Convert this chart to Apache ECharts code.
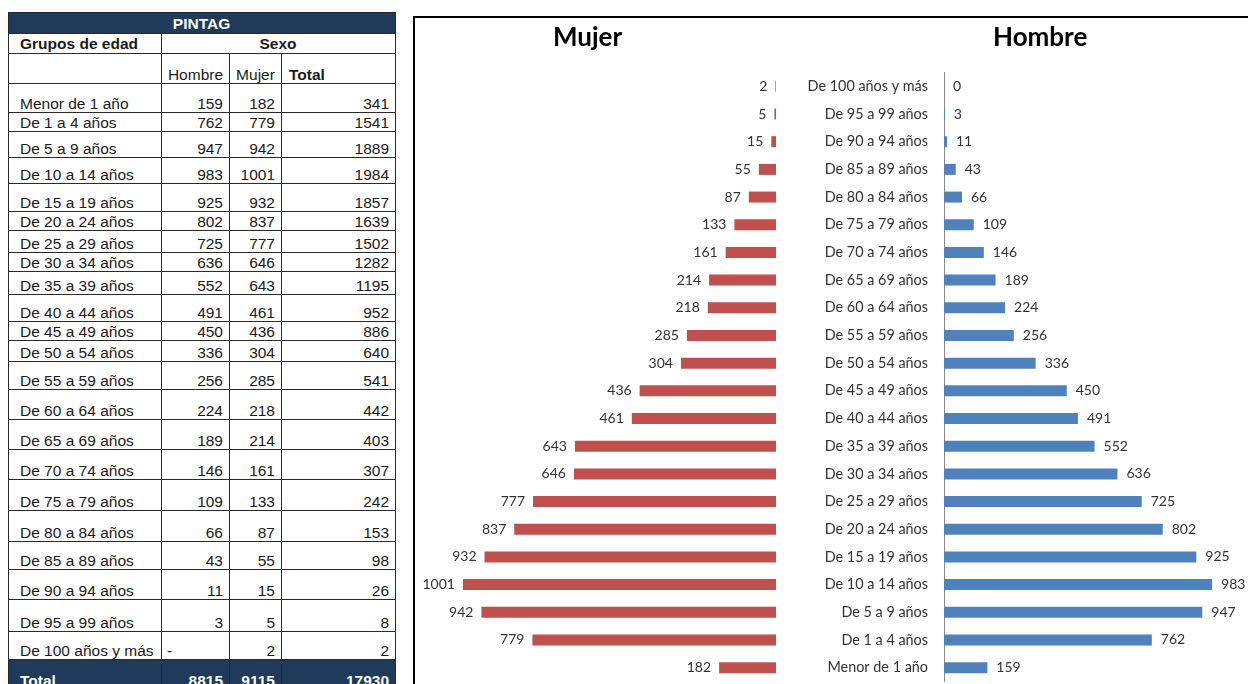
<!DOCTYPE html>
<html>
<head>
<meta charset="utf-8">
<script src="https://cdn.jsdelivr.net/npm/echarts@6/dist/echarts.min.js"></script>
<style>
html,body{margin:0;padding:0;width:1248px;height:684px;overflow:hidden;background:#fff;}
#tbl{position:absolute;left:8px;top:12px;border-collapse:collapse;table-layout:fixed;width:387px;
  font-family:"Liberation Sans",Arial,sans-serif;font-size:15.5px;color:#1a1a1a;}
#tbl td{border:1px solid #2a2a2a;padding:0 6px 0 5px;vertical-align:bottom;white-space:nowrap;overflow:hidden;line-height:17px;}
#tbl td.first{padding-left:11px;}
#tbl td.num{text-align:right;}
#tbl tr.navy td{background:#203A5C;color:#fff;font-weight:bold;}
#chart{position:absolute;left:413px;top:16px;width:900px;height:700px;border:2px solid #000;box-sizing:content-box;}
</style>
</head>
<body>
<table id="tbl">
  <colgroup><col style="width:153px"><col style="width:68px"><col style="width:52px"><col style="width:114px"></colgroup>
  <tbody id="tbody"></tbody>
</table>
<div id="chart"></div>
<script>
// ---- data ----
const tableTitle = "PINTAG";
const ageGroups = ["Menor de 1 año","De 1 a 4 años","De 5 a 9 años","De 10 a 14 años","De 15 a 19 años",
  "De 20 a 24 años","De 25 a 29 años","De 30 a 34 años","De 35 a 39 años","De 40 a 44 años",
  "De 45 a 49 años","De 50 a 54 años","De 55 a 59 años","De 60 a 64 años","De 65 a 69 años",
  "De 70 a 74 años","De 75 a 79 años","De 80 a 84 años","De 85 a 89 años","De 90 a 94 años",
  "De 95 a 99 años","De 100 años y más"];
const hombre = [159,762,947,983,925,802,725,636,552,491,450,336,256,224,189,146,109,66,43,11,3,0];
const mujer  = [182,779,942,1001,932,837,777,646,643,461,436,304,285,218,214,161,133,87,55,15,5,2];
const chartTitles = ["Mujer","Hombre"];

// ---- table (layout heights only) ----
const rowHeights = [29,19,26,26,28,19,22,19,23,27,19,21,28,30,30,30,31,31,28,30,32,28];
const tbody = document.getElementById('tbody');
function addRow(cells, h, cls){
  const tr = document.createElement('tr');
  if (cls) tr.className = cls;
  tr.style.height = h + 'px';
  cells.forEach((c, k) => {
    const td = document.createElement('td');
    td.textContent = c.t;
    if (c.span) td.colSpan = c.span;
    if (c.style) td.setAttribute('style', c.style);
    td.className = (c.cls || '') + (k === 0 && !c.span ? ' first' : '');
    td.style.height = (h - 1) + 'px';
    tr.appendChild(td);
  });
  tbody.appendChild(tr);
}
addRow([{t:tableTitle, span:4, style:'text-align:center;vertical-align:middle'}], 21, 'navy');
addRow([{t:'Grupos de edad', style:'font-weight:bold;vertical-align:middle'},
        {t:'Sexo', span:3, style:'font-weight:bold;text-align:center;vertical-align:middle'}], 20);
addRow([{t:''},{t:'Hombre', style:'text-align:center;padding:0'},{t:'Mujer', style:'text-align:center;padding:0'},
        {t:'Total', style:'font-weight:bold;padding-left:7px'}], 30);
ageGroups.forEach((g,i) => {
  addRow([{t:g},
          {t: hombre[i] === 0 ? '-' : String(hombre[i]), cls: hombre[i] === 0 ? '' : 'num'},
          {t:String(mujer[i]), cls:'num'},
          {t:String(hombre[i] + mujer[i]), cls:'num'}], rowHeights[i]);
});
const sumH = hombre.reduce((a,b)=>a+b,0), sumM = mujer.reduce((a,b)=>a+b,0);
addRow([{t:'Total'},{t:String(sumH),cls:'num'},{t:String(sumM),cls:'num'},{t:String(sumH+sumM),cls:'num'}], 30, 'navy');

// ---- chart ----
const chart = echarts.init(document.getElementById('chart'), null, {renderer:'canvas'});
const fam = 'Lato, "Open Sans", sans-serif';
const lblFont = {fontFamily:fam, fontSize:14, color:'#333'};
const option = {
  animation:false,
  grid:[
    {left:17, width:344, top:54.5, height:609},
    {left:529, width:300, top:54.5, height:609}
  ],
  xAxis:[
    {type:'value', gridIndex:0, inverse:true, min:0, max:1100, show:false},
    {type:'value', gridIndex:1, min:0, max:1100, show:false}
  ],
  yAxis:[
    {type:'category', gridIndex:0, data:ageGroups, show:false},
    {type:'category', gridIndex:1, data:ageGroups,
     axisLine:{show:true, lineStyle:{color:'#8c8c8c', width:1}},
     axisTick:{show:false},
     axisLabel:{margin:16, fontFamily:fam, fontSize:14.4, color:'#333'}}
  ],
  series:[
    {type:'bar', xAxisIndex:0, yAxisIndex:0, data:mujer, barWidth:11,
     itemStyle:{color:'#C0504D'},
     label:Object.assign({show:true, position:'left', distance:8}, lblFont)},
    {type:'bar', xAxisIndex:1, yAxisIndex:1, data:hombre, barWidth:11,
     itemStyle:{color:'#4F81BD'},
     label:Object.assign({show:true, position:'right', distance:9}, lblFont)}
  ],
  graphic:[
    {type:'text', left:138, top:7, style:{text:chartTitles[0], fontFamily:fam, fontWeight:'bold', fontSize:26, fill:'#000'}},
    {type:'text', left:578, top:7, style:{text:chartTitles[1], fontFamily:fam, fontWeight:'bold', fontSize:26, fill:'#000'}}
  ]
};
chart.setOption(option);
</script>
</body>
</html>
